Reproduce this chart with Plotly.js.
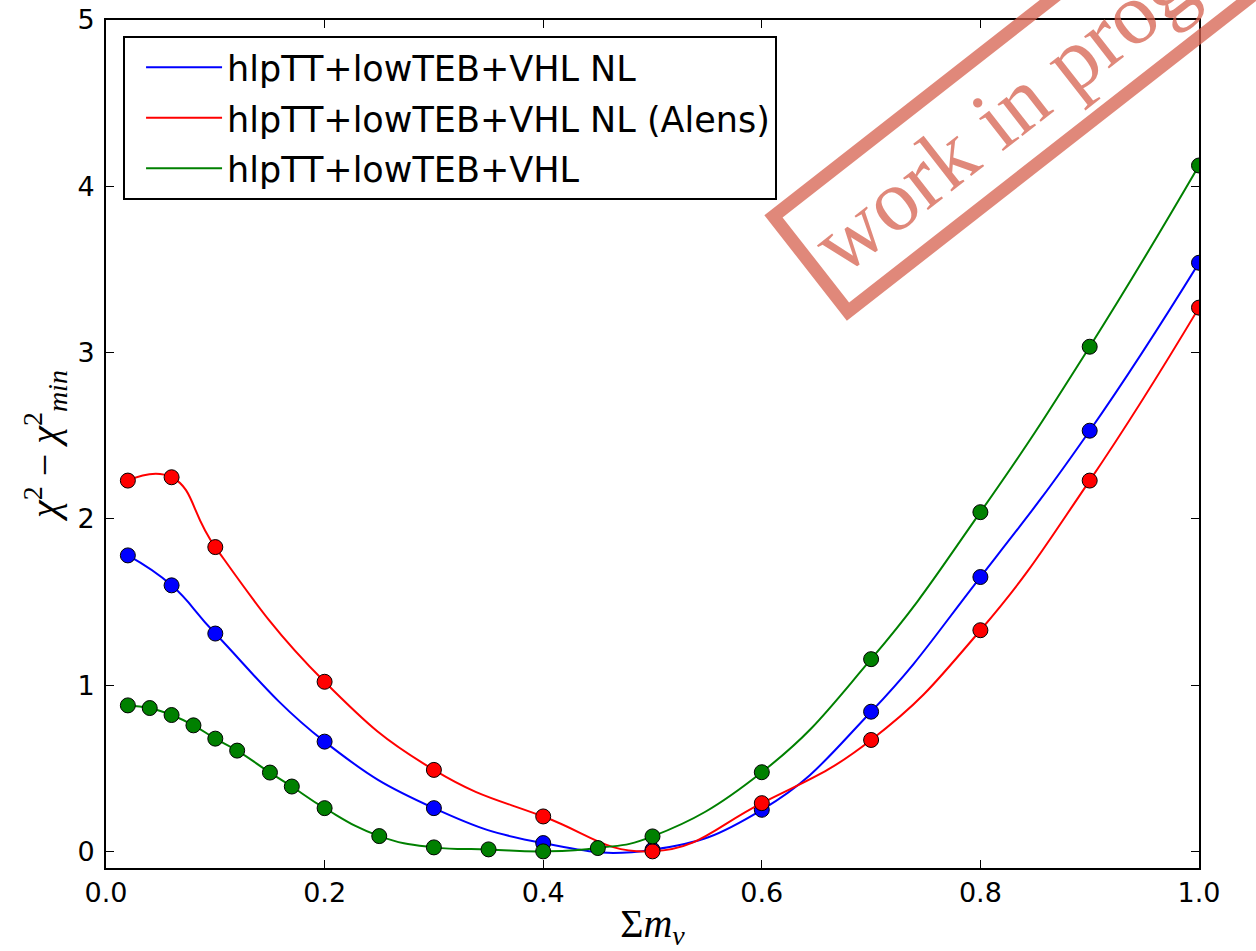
<!DOCTYPE html>
<html>
<head>
<meta charset="utf-8">
<script src="https://cdn.plot.ly/plotly-3.0.1.min.js"></script>
<style>html,body{margin:0;padding:0;background:#fff;}#chart{width:1256px;height:951px;}</style>
</head>
<body>
<div id="chart"></div>
<script>
// Data
const seriesNames = ["hlpTT+lowTEB+VHL NL", "hlpTT+lowTEB+VHL NL (Alens)", "hlpTT+lowTEB+VHL"];
const mnuNL = [0.02, 0.06, 0.10, 0.20, 0.30, 0.40, 0.50, 0.60, 0.70, 0.80, 0.90, 1.00];
const chiNL = [1.78, 1.60, 1.31, 0.66, 0.26, 0.05, 0.01, 0.25, 0.84, 1.65, 2.53, 3.54];
const mnuAlens = [0.02, 0.06, 0.10, 0.20, 0.30, 0.40, 0.50, 0.60, 0.70, 0.80, 0.90, 1.00];
const chiAlens = [2.23, 2.25, 1.83, 1.02, 0.49, 0.21, 0.00, 0.29, 0.67, 1.33, 2.23, 3.27];
const mnuVHL = [0.02, 0.04, 0.06, 0.08, 0.10, 0.12, 0.15, 0.17, 0.20, 0.25, 0.30, 0.35, 0.40, 0.45, 0.50, 0.60, 0.70, 0.80, 0.90, 1.00];
const chiVHL = [0.878, 0.862, 0.82, 0.758, 0.678, 0.606, 0.474, 0.39, 0.26, 0.092, 0.024, 0.012, 0.0, 0.02, 0.09, 0.476, 1.156, 2.04, 3.035, 4.125];
const colors = ["#0000ff", "#ff0000", "#008000"];
const xTicks = [0.0, 0.2, 0.4, 0.6, 0.8, 1.0];
const xTickText = ["0.0", "0.2", "0.4", "0.6", "0.8", "1.0"];
const yTicks = [0, 1, 2, 3, 4, 5];
const watermarkText = "work in progress";

const xs = [mnuNL, mnuAlens, mnuVHL];
const ys = [chiNL, chiAlens, chiVHL];

const traces = [];
for (let i = 0; i < 3; i++) {
  traces.push({
    x: xs[i], y: ys[i], type: "scatter", mode: "lines",
    name: seriesNames[i], legendgroup: "g" + i, showlegend: true,
    line: {color: colors[i], width: 2, shape: "spline", smoothing: 1.3},
    hoverinfo: "skip"
  });
  traces.push({
    x: xs[i], y: ys[i], type: "scatter", mode: "markers",
    name: seriesNames[i], legendgroup: "g" + i, showlegend: false,
    marker: {color: colors[i], size: 15, line: {color: "#000", width: 1}}
  });
}

const axisCommon = {
  showline: true, linecolor: "#000", linewidth: 2, mirror: "allticks",
  ticks: "inside", ticklen: 8, tickwidth: 1, tickcolor: "#000",
  showgrid: false, zeroline: false,
  tickfont: {family: "DejaVu Sans", size: 27, color: "#000"}
};

const layout = {
  width: 1256, height: 951,
  margin: {l: 106, r: 57, t: 20, b: 83},
  paper_bgcolor: "#fff", plot_bgcolor: "#fff",
  font: {family: "DejaVu Sans", color: "#000"},
  xaxis: Object.assign({}, axisCommon, {
    range: [0, 1], tickvals: xTicks, ticktext: xTickText, ticklabelstandoff: 0,
    title: {text: "Σ<i>m</i><sub><i>ν</i></sub>", font: {family: "Liberation Serif", size: 40, color: "#000"}, standoff: 2}
  }),
  yaxis: Object.assign({}, axisCommon, {
    range: [-0.1, 5], tickvals: yTicks, ticklabelstandoff: 4,
    title: {text: "<i>χ</i><sup>2</sup> − <i>χ</i><sup>2</sup><sub><i>min</i></sub>", font: {family: "Liberation Serif", size: 40, color: "#000"}, standoff: 6}
  }),
  legend: {
    x: 0.0156, y: 0.981, xanchor: "left", yanchor: "top",
    bgcolor: "#fff", bordercolor: "#000", borderwidth: 2,
    font: {family: "DejaVu Sans", size: 35, color: "#000"},
    traceorder: "grouped", tracegroupgap: 2, itemwidth: 76, indentation: 16
  },
  annotations: [{
    text: watermarkText, xref: "paper", yref: "paper",
    x: 0.8695, y: 0.9389, xanchor: "center", yanchor: "middle",
    showarrow: false, textangle: -38,
    font: {family: "Liberation Serif", size: 88, color: "rgba(214,96,77,0.75)"},
    bordercolor: "rgba(214,96,77,0.75)", borderwidth: 13, borderpad: 0,
    width: 611, height: 108
  }]
};

Plotly.newPlot("chart", traces, layout, {displayModeBar: false, staticPlot: true});
</script>
</body>
</html>
